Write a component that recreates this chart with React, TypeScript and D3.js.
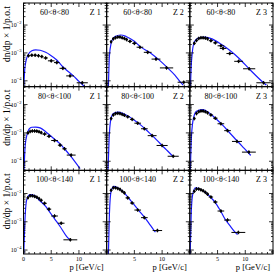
import React from "react";
import * as d3 from "d3";

// layout of the 3x3 grid (pixels)
const W = 276;
const H = 273;
const gridLeft = 23.5;
const gridRight = 273;
const gridTop = 3;
const gridBottom = 254;

const rowLabels = ["60<θ<80", "80<θ<100", "100<θ<140"];
const zLabels = ["Z 1", "Z 2", "Z 3"];
const pMax = 15;
const xTicksMajor = [0, 5, 10];
const yTickExp = [-2, -3, -4];
// log10 range of each row
const rowLogMin = [-4.21, -4.32, -4.14];
const rowLogMax = [-1.21, -1.37, -1.18];

// data points: [p, bin width, dn/dp]
const pts_60_80_z1 = [
  [0.9, 0.6, 7.9e-4], [1.5, 0.6, 8.3e-4], [2.1, 0.6, 8.3e-4], [2.7, 0.6, 7.9e-4],
  [3.3, 0.6, 7.4e-4], [4.0, 0.8, 6.6e-4], [5.0, 1.2, 5.2e-4], [6.0, 1.0, 4.5e-4],
  [7.1, 1.2, 2.8e-4], [8.4, 1.4, 1.5e-4], [10.6, 2.0, 8.5e-5],
];
const pts_60_80_z2 = [
  [0.8, 0.4, 2.5e-3], [1.2, 0.4, 3.2e-3], [1.6, 0.4, 3.5e-3], [2.0, 0.4, 3.7e-3],
  [2.4, 0.4, 3.7e-3], [2.8, 0.4, 3.5e-3], [3.2, 0.4, 3.3e-3], [3.6, 0.4, 3.0e-3],
  [4.2, 0.8, 2.6e-3], [5.0, 0.8, 2.2e-3], [6.0, 1.2, 1.6e-3], [7.4, 1.4, 1.05e-3],
  [8.9, 1.6, 6.0e-4], [10.8, 2.4, 2.9e-4], [13.9, 2.2, 8.9e-5],
];
const pts_60_80_z3 = [
  [0.8, 0.4, 2.2e-3], [1.2, 0.4, 2.8e-3], [1.6, 0.4, 3.3e-3], [2.0, 0.4, 3.5e-3],
  [2.4, 0.4, 3.5e-3], [2.8, 0.4, 3.4e-3], [3.2, 0.4, 3.2e-3], [3.8, 0.8, 2.75e-3],
  [4.6, 0.8, 2.3e-3], [5.6, 1.2, 1.8e-3], [6.0, 1.2, 1.45e-3], [7.2, 1.2, 9.5e-4],
  [8.8, 1.6, 5.0e-4], [10.7, 2.2, 2.7e-4], [13.3, 2.6, 8.5e-5],
];
const pts_80_100_z1 = [
  [0.8, 0.4, 1.0e-3], [1.2, 0.4, 1.12e-3], [1.6, 0.4, 1.17e-3], [2.0, 0.4, 1.17e-3],
  [2.4, 0.4, 1.15e-3], [2.8, 0.4, 1.1e-3], [3.2, 0.4, 1.02e-3], [3.8, 0.8, 9.1e-4],
  [4.6, 0.8, 7.6e-4], [5.6, 1.2, 5.4e-4], [6.6, 0.8, 3.7e-4], [7.4, 0.8, 2.75e-4],
  [8.6, 1.6, 1.65e-4],
];
const pts_80_100_z2 = [
  [0.8, 0.4, 3.2e-3], [1.2, 0.4, 4.3e-3], [1.6, 0.4, 4.8e-3], [2.0, 0.4, 4.9e-3],
  [2.4, 0.4, 4.8e-3], [2.8, 0.4, 4.5e-3], [3.2, 0.4, 4.2e-3], [3.8, 0.8, 3.7e-3],
  [4.6, 0.8, 3.0e-3], [5.6, 1.2, 2.2e-3], [6.8, 1.2, 1.4e-3], [8.2, 1.6, 8.0e-4],
  [10.0, 2.0, 3.6e-4], [12.0, 2.0, 1.5e-4],
];
const pts_80_100_z3 = [
  [0.8, 0.4, 3.2e-3], [1.2, 0.4, 4.8e-3], [1.6, 0.4, 5.6e-3], [2.0, 0.4, 5.9e-3],
  [2.4, 0.4, 5.9e-3], [2.8, 0.4, 5.6e-3], [3.2, 0.4, 5.1e-3], [3.8, 0.8, 4.3e-3],
  [4.6, 0.8, 3.3e-3], [5.6, 1.2, 2.1e-3], [6.8, 1.2, 1.2e-3], [8.5, 1.8, 5.0e-4],
  [10.65, 2.5, 2.1e-4],
];
const pts_100_140_z1 = [
  [0.8, 0.4, 7.1e-3], [1.2, 0.4, 8.3e-3], [1.6, 0.4, 8.3e-3], [2.0, 0.4, 7.9e-3],
  [2.4, 0.4, 7.4e-3], [2.8, 0.4, 6.6e-3], [3.2, 0.4, 5.75e-3], [3.8, 0.8, 4.5e-3],
  [4.6, 0.8, 2.8e-3], [5.6, 1.2, 1.6e-3], [6.8, 1.2, 8.9e-4], [8.45, 2.5, 2.3e-4],
];
const pts_100_140_z2 = [
  [0.8, 0.4, 1.3e-2], [1.2, 0.4, 1.6e-2], [1.6, 0.4, 1.6e-2], [2.0, 0.4, 1.5e-2],
  [2.4, 0.4, 1.4e-2], [2.8, 0.4, 1.2e-2], [3.2, 0.4, 1.05e-2], [3.8, 0.8, 7.0e-3],
  [4.6, 0.8, 4.6e-3], [5.6, 1.2, 2.6e-3], [6.8, 1.2, 1.4e-3], [9.15, 1.7, 4.9e-4],
];
const pts_100_140_z3 = [
  [0.8, 0.4, 1.2e-2], [1.2, 0.4, 1.45e-2], [1.6, 0.4, 1.45e-2], [2.0, 0.4, 1.35e-2],
  [2.4, 0.4, 1.25e-2], [2.8, 0.4, 1.1e-2], [3.2, 0.4, 9.5e-3], [3.8, 0.8, 7.5e-3],
  [4.6, 0.8, 5.0e-3], [5.6, 1.2, 2.4e-3], [6.8, 1.2, 1.15e-3], [8.75, 2.5, 4.2e-4],
];

// simulation curves: [p, dn/dp]
const mc_60_80_z1 = [
  [0.05, 6e-5], [0.27, 3.2e-4], [0.8, 8.5e-4], [1.5, 1.2e-3], [2.2, 1.29e-3],
  [3.0, 1.25e-3], [4.0, 1.05e-3], [4.8, 8.5e-4], [6.0, 5.6e-4], [7.1, 3.2e-4],
  [8.0, 2.2e-4], [9.0, 1.5e-4], [10.0, 9.5e-5], [11.0, 6.2e-5],
];
const mc_60_80_z2 = [
  [0.3, 5e-5], [0.5, 8e-4], [0.8, 2.2e-3], [1.0, 2.9e-3], [1.5, 3.9e-3], [2.5, 4.4e-3],
  [3.5, 3.9e-3], [5.0, 2.6e-3], [6.1, 1.65e-3], [7.9, 1.0e-3], [9.5, 5.5e-4],
  [11.0, 2.9e-4], [12.3, 1.6e-4], [13.3, 9e-5], [13.8, 7e-5],
];
const mc_60_80_z3 = [
  [0.1, 5e-5], [0.3, 5e-4], [0.8, 2.45e-3], [1.5, 3.4e-3], [2.8, 3.7e-3], [4.0, 3.2e-3],
  [5.8, 1.95e-3], [7.3, 1.2e-3], [8.8, 6.6e-4], [10.9, 2.45e-4], [13.3, 8.5e-5],
  [13.8, 7e-5],
];
const mc_80_100_z1 = [
  [0.1, 5e-5], [0.3, 3.5e-4], [0.6, 8.1e-4], [1.0, 1.35e-3], [1.5, 1.58e-3],
  [2.2, 1.6e-3], [3.0, 1.5e-3], [4.0, 1.1e-3], [4.8, 8.1e-4], [5.7, 5.8e-4],
  [6.6, 4.1e-4], [7.5, 2.6e-4], [8.4, 1.6e-4], [9.3, 9.5e-5], [10.2, 5.5e-5],
];
const mc_80_100_z2 = [
  [0.25, 5e-5], [0.5, 1.0e-3], [0.8, 3.3e-3], [1.2, 4.8e-3], [2.0, 5.4e-3],
  [3.0, 4.8e-3], [4.0, 3.8e-3], [5.0, 2.8e-3], [6.0, 2.0e-3], [7.0, 1.35e-3],
  [8.0, 8.8e-4], [9.0, 5.7e-4], [10.0, 3.6e-4], [11.0, 2.3e-4], [12.0, 1.45e-4],
];
const mc_80_100_z3 = [
  [0.1, 5e-5], [0.3, 8e-4], [0.7, 3.6e-3], [1.2, 5.8e-3], [2.2, 6.6e-3], [3.0, 5.9e-3],
  [4.0, 4.2e-3], [5.0, 2.8e-3], [6.0, 1.8e-3], [7.0, 1.1e-3], [8.5, 5.3e-4],
  [9.5, 3.3e-4], [10.6, 1.95e-4], [11.0, 1.6e-4],
];
const mc_100_140_z1 = [
  [0.05, 7e-5], [0.2, 6e-4], [0.6, 6.2e-3], [1.2, 9.1e-3], [2.0, 8.4e-3], [3.0, 5.4e-3],
  [4.0, 3.5e-3], [4.8, 2.1e-3], [5.7, 1.2e-3], [6.6, 6.8e-4], [7.8, 3.0e-4],
  [8.4, 2.3e-4],
];
const mc_100_140_z2 = [
  [0.3, 6e-5], [0.5, 2e-3], [0.8, 1.2e-2], [1.3, 1.8e-2], [2.0, 1.6e-2], [3.1, 1.1e-2],
  [4.0, 6.8e-3], [4.9, 4.1e-3], [5.8, 2.5e-3], [6.7, 1.55e-3], [7.6, 9e-4],
  [8.5, 5.1e-4], [8.8, 4.3e-4],
];
const mc_100_140_z3 = [
  [0.05, 6e-5], [0.25, 2e-3], [0.5, 9e-3], [1.0, 1.6e-2], [1.8, 1.45e-2], [2.8, 1.1e-2],
  [3.7, 7.5e-3], [4.6, 4.8e-3], [5.5, 2.5e-3], [6.4, 1.2e-3], [7.3, 7.0e-4],
  [8.2, 4.2e-4], [8.6, 3.5e-4],
];

const points = [
  [pts_60_80_z1, pts_60_80_z2, pts_60_80_z3],
  [pts_80_100_z1, pts_80_100_z2, pts_80_100_z3],
  [pts_100_140_z1, pts_100_140_z2, pts_100_140_z3],
];
const curves = [
  [mc_60_80_z1, mc_60_80_z2, mc_60_80_z3],
  [mc_80_100_z1, mc_80_100_z2, mc_80_100_z3],
  [mc_100_140_z1, mc_100_140_z2, mc_100_140_z3],
];

const FONT = "'Liberation Serif', 'DejaVu Serif', serif";
const BLUE = "#1a1aff";

function Panel({ row, col }: { row: number; col: number }) {
  const colW = (gridRight - gridLeft) / 3;
  const rowH = (gridBottom - gridTop) / 3;
  const x0 = gridLeft + col * colW;
  const x1 = x0 + colW;
  const y0 = gridTop + row * rowH;
  const y1 = y0 + rowH;

  const x = d3.scaleLinear().domain([0, pMax]).range([x0, x1]);
  const y = d3
    .scaleLog()
    .domain([Math.pow(10, rowLogMin[row]), Math.pow(10, rowLogMax[row])])
    .range([y1, y0]);

  const line = d3
    .line<number[]>()
    .x((d) => x(d[0]))
    .y((d) => y(d[1]))
    .curve(d3.curveMonotoneX);

  // log minor ticks
  const minor: number[] = [];
  for (let e = Math.floor(rowLogMin[row]); e <= Math.ceil(rowLogMax[row]); e++) {
    for (let k = 1; k <= 9; k++) {
      const v = k * Math.pow(10, e);
      if (v >= y.domain()[0] && v <= y.domain()[1]) minor.push(v);
    }
  }
  const xMinor = d3.range(0, pMax + 0.01, 1);
  const clipId = `clip-${row}-${col}`;

  return (
    <g>
      <defs>
        <clipPath id={clipId}>
          <rect x={x0} y={y0} width={colW} height={rowH} />
        </clipPath>
      </defs>
      <g clipPath={`url(#${clipId})`}>
        <path d={line(curves[row][col]) || ""} fill="none" stroke={BLUE} strokeWidth={1.2} />
        {points[row][col].map((d, i) => (
          <g key={i} stroke="#000" strokeWidth={1}>
            <line x1={x(d[0] - d[1] / 2)} x2={x(d[0] + d[1] / 2)} y1={y(d[2])} y2={y(d[2])} />
            <line x1={x(d[0])} x2={x(d[0])} y1={y(d[2]) - 1.8} y2={y(d[2]) + 1.8} />
            <circle cx={x(d[0])} cy={y(d[2])} r={1.3} fill="#000" stroke="none" />
          </g>
        ))}
      </g>
      {/* frame */}
      <rect x={x0} y={y0} width={colW} height={rowH} fill="none" stroke="#000" strokeWidth={1} />
      {/* y ticks both sides */}
      {minor.map((v, i) => {
        const major = Math.abs(Math.log10(v) - Math.round(Math.log10(v))) < 1e-6;
        const len = major ? 4 : 2;
        return (
          <g key={i} stroke="#000" strokeWidth={0.8}>
            <line x1={x0} x2={x0 + len} y1={y(v)} y2={y(v)} />
            <line x1={x1} x2={x1 - len} y1={y(v)} y2={y(v)} />
          </g>
        );
      })}
      {/* x ticks top and bottom */}
      {xMinor.map((p, i) => {
        const len = p % 5 === 0 ? 4 : 2;
        return (
          <g key={i} stroke="#000" strokeWidth={0.8}>
            <line x1={x(p)} x2={x(p)} y1={y1} y2={y1 - len} />
            <line x1={x(p)} x2={x(p)} y1={y0} y2={y0 + len} />
          </g>
        );
      })}
      <text x={x0 + 31} y={y0 + 12} fontSize={8} fontFamily={FONT} textAnchor="middle" fill="#000">
        {rowLabels[row]}
      </text>
      <text x={x1 - 6} y={y0 + 12} fontSize={8} fontFamily={FONT} textAnchor="end" fill="#000">
        {zLabels[col]}
      </text>
      {col === 0 &&
        yTickExp.map((e) => (
          <text key={e} x={x0 - 2} y={y(Math.pow(10, e)) + 2} fontSize={6} fontFamily={FONT} textAnchor="end" fill="#000">
            10
            <tspan fontSize={4.5} dy={-3}>
              {`−${Math.abs(e)}`}
            </tspan>
          </text>
        ))}
      {col === 0 && (
        <text
          transform={`translate(10,${y0 + 3}) rotate(-90)`}
          fontSize={9.5}
          fontFamily={FONT}
          textAnchor="end"
          fill="#000"
        >
          dn/dp × 1/p.o.t
        </text>
      )}
      {row === 2 &&
        xTicksMajor
          .filter((p) => col === 0 || p > 0)
          .map((p) => (
            <text key={p} x={x(p)} y={y1 + 6.5} fontSize={6} fontFamily={FONT} textAnchor="middle" fill="#000">
              {p}
            </text>
          ))}
      {row === 2 && (
        <text x={x1 - 3} y={y1 + 15.5} fontSize={8.5} fontFamily={FONT} textAnchor="end" fill="#000">
          p [GeV/c]
        </text>
      )}
    </g>
  );
}

export default function App() {
  const cells = [];
  for (let r = 0; r < 3; r++) for (let c = 0; c < 3; c++) cells.push([r, c]);
  return (
    <svg width={W} height={H} style={{ position: "absolute", left: 0, top: 0, background: "#fff" }}>
      {cells.map(([r, c]) => (
        <Panel key={`${r}-${c}`} row={r} col={c} />
      ))}
    </svg>
  );
}
